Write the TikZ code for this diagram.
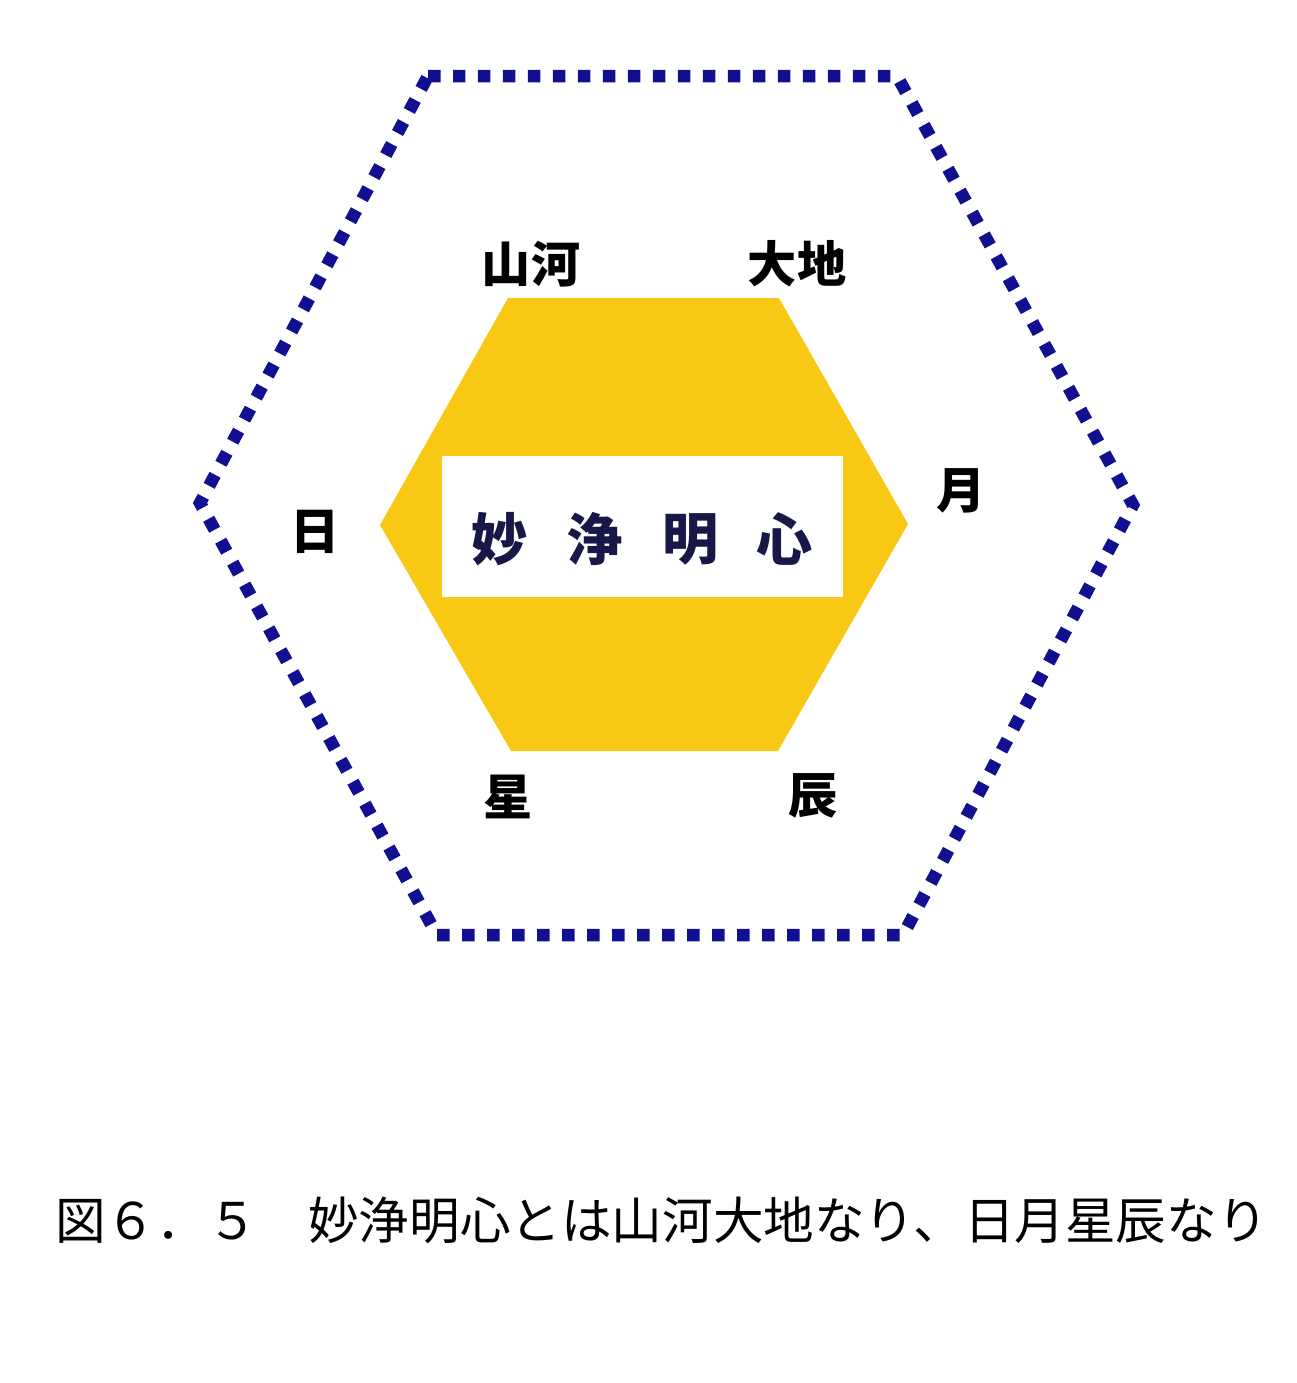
\documentclass[tikz,border=0pt]{standalone}
\usepackage{fontspec}
\newfontfamily\jp{Noto Sans CJK JP}
\definecolor{navy}{RGB}{16,16,145}
\definecolor{gold}{RGB}{248,200,20}
\definecolor{inktext}{RGB}{24,24,72}
\tikzset{
  outerhex/.style={draw=navy, line width=0.25cm, dash pattern=on 0.25cm off 0.25cm, line join=miter},
  innerhex/.style={fill=gold, draw=none},
  label/.style={font=\jp\bfseries\fontsize{28}{30}\selectfont, text=black, inner sep=0pt},
  core/.style={font=\jp\bfseries\fontsize{32}{34}\selectfont, text=inktext, inner sep=0pt},
  caption/.style={font=\jp\fontsize{28.8}{30}\selectfont, text=black, inner sep=0pt, anchor=west}
}
\begin{document}
\begin{tikzpicture}[x=0.02cm,y=-0.02cm]
\useasboundingbox (0,0) rectangle (1297,1383);
\fill[white] (0,0) rectangle (1297,1383);
% outer dotted hexagon
\draw[outerhex] (428,76) -- (897,76) -- (1133,505) -- (903,935) -- (437,935) -- (200,503) -- cycle;
% inner yellow hexagon
\fill[innerhex] (508,298) -- (779,298) -- (908,524) -- (778,751) -- (511,751) -- (380,525) -- cycle;
% white box
\node[fill=white, minimum width=401*0.02cm, minimum height=141*0.02cm, inner sep=0pt] (box) at (642.5,526.5) {};
\node[core] (c1) at (500,539) {妙};
\node[core] (c2) at (595,539) {浄};
\node[core] (c3) at (691,539) {明};
\node[core] (c4) at (785,539) {心};
% labels
\node[label] (sanga) at (531,264) {山河};
\node[label] (daichi) at (797,264) {大地};
\node[label] (nichi) at (315,532) {日};
\node[label] (getsu) at (961,491) {月};
\node[label] (sei) at (508,797) {星};
\node[label] (shin) at (813,796) {辰};
% caption
\node[caption] (cap) at (55,1220) {図６．５　妙浄明心とは山河大地なり、日月星辰なり};
\end{tikzpicture}
\end{document}
